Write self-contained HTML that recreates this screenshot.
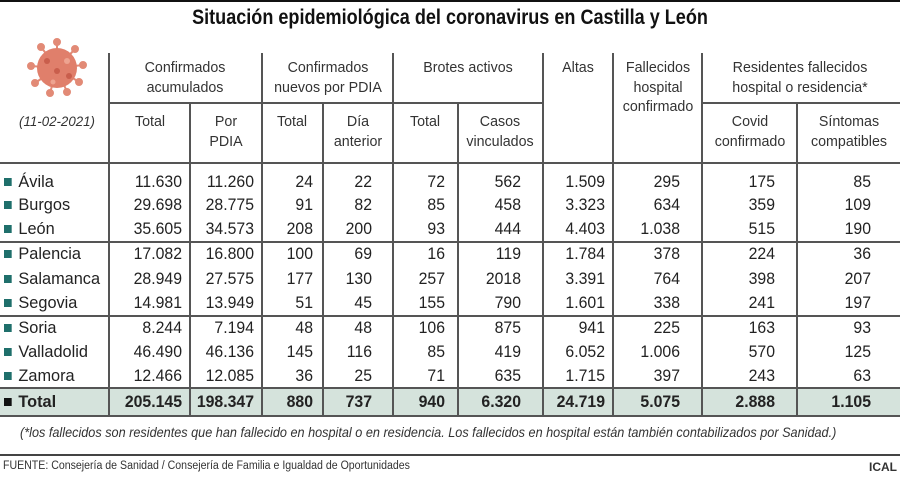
<!DOCTYPE html>
<html><head><meta charset="utf-8"><style>
body{margin:0;background:#fff}
#c{position:relative;width:900px;height:477px;overflow:hidden;font-family:"Liberation Sans",Arial,sans-serif;color:#222}
.t{position:absolute;white-space:nowrap}
.h{position:absolute;text-align:center;font-size:15px;line-height:20px;color:#333;transform:translateX(-50%) scaleX(0.95);white-space:nowrap}
.v{position:absolute;width:1.5px;background:#555}
.hl{position:absolute;height:1.5px;background:#555}
.n{position:absolute;font-size:17px;line-height:20px;text-align:right;white-space:nowrap;transform-origin:100% 50%;transform:translateX(-100%) scaleX(0.93)}
.r{position:absolute;font-size:17px;line-height:20px;left:4px;white-space:nowrap;transform-origin:0 50%;transform:scaleX(0.96)}
.sq{display:inline-block;width:8px;height:8px;background:#1f6f6b;margin-right:7px;vertical-align:1px}
</style></head><body><div id="c">
<div style="position:absolute;left:0;top:0;width:900px;height:2px;background:#111"></div>
<div class="t" style="left:450px;top:6px;font-size:21px;font-weight:bold;transform:translateX(-50%) scaleX(0.86);color:#111">Situación epidemiológica del coronavirus en Castilla y León</div>
<svg style="position:absolute;left:25px;top:36px" width="64" height="64" viewBox="-32 -32 64 64">
<g stroke="#e28a76" stroke-width="2" fill="#e28a76">
<line x1="0" y1="0" x2="0" y2="-26"/><circle cx="0" cy="-26" r="3"/>
<line x1="0" y1="0" x2="18" y2="-19"/><circle cx="18" cy="-19" r="3"/>
<line x1="0" y1="0" x2="26" y2="-3"/><circle cx="26" cy="-3" r="3"/>
<line x1="0" y1="0" x2="22" y2="14"/><circle cx="22" cy="14" r="3"/>
<line x1="0" y1="0" x2="10" y2="24"/><circle cx="10" cy="24" r="3"/>
<line x1="0" y1="0" x2="-7" y2="25"/><circle cx="-7" cy="25" r="3"/>
<line x1="0" y1="0" x2="-22" y2="15"/><circle cx="-22" cy="15" r="3"/>
<line x1="0" y1="0" x2="-26" y2="-2"/><circle cx="-26" cy="-2" r="3"/>
<line x1="0" y1="0" x2="-16" y2="-21"/><circle cx="-16" cy="-21" r="3"/>
</g>
<circle r="20" fill="#e07f6b"/>
<circle cx="-10" cy="-7" r="3" fill="#c95e4c"/><circle cx="10" cy="-7" r="3" fill="#eea390"/>
<circle cx="0" cy="3" r="3" fill="#c95e4c"/><circle cx="12" cy="8" r="3" fill="#c95e4c"/><circle cx="-4" cy="14" r="2.5" fill="#eea390"/>
</svg>
<div class="t" style="left:57px;top:113px;font-size:14px;font-style:italic;color:#333;transform:translateX(-50%) scaleX(0.95)">(11-02-2021)</div>

<div class="h" style="left:185px;top:58px">Confirmados<br>acumulados</div>
<div class="h" style="left:328px;top:58px">Confirmados<br>nuevos por PDIA</div>
<div class="h" style="left:468px;top:58px">Brotes activos</div>
<div class="h" style="left:578px;top:58px">Altas</div>
<div class="h" style="left:658px;top:58px;line-height:19.5px">Fallecidos<br>hospital<br>confirmado</div>
<div class="h" style="left:800px;top:58px">Residentes fallecidos<br>hospital o residencia*</div>
<div class="h" style="left:150px;top:112px">Total</div>
<div class="h" style="left:226px;top:112px">Por<br>PDIA</div>
<div class="h" style="left:292px;top:112px">Total</div>
<div class="h" style="left:358px;top:112px">Día<br>anterior</div>
<div class="h" style="left:425px;top:112px">Total</div>
<div class="h" style="left:500px;top:112px">Casos<br>vinculados</div>
<div class="h" style="left:750px;top:112px">Covid<br>confirmado</div>
<div class="h" style="left:849px;top:112px">Síntomas<br>compatibles</div>

<div style="position:absolute;left:0;top:388px;width:900px;height:28px;background:#d5e3dc"></div>

<div class="hl" style="left:109px;top:102px;width:434px"></div>
<div class="hl" style="left:702px;top:102px;width:198px"></div>
<div class="hl" style="left:0;top:162px;width:900px"></div>
<div class="hl" style="left:0;top:241px;width:900px"></div>
<div class="hl" style="left:0;top:315px;width:900px"></div>
<div class="hl" style="left:0;top:387px;width:900px"></div>
<div class="hl" style="left:0;top:415px;width:900px"></div>
<div class="hl" style="left:0;top:454px;width:900px;background:#444"></div>

<div class="v" style="left:108px;top:53px;height:363px"></div>
<div class="v" style="left:261px;top:53px;height:363px"></div>
<div class="v" style="left:392px;top:53px;height:363px"></div>
<div class="v" style="left:542px;top:53px;height:363px"></div>
<div class="v" style="left:612px;top:53px;height:363px"></div>
<div class="v" style="left:701px;top:53px;height:363px"></div>
<div class="v" style="left:189px;top:102px;height:314px"></div>
<div class="v" style="left:322px;top:102px;height:314px"></div>
<div class="v" style="left:457px;top:102px;height:314px"></div>
<div class="v" style="left:796px;top:102px;height:314px"></div>

<div id="rows"></div>
<div class="t" style="left:20px;top:424px;font-size:14px;font-style:italic;color:#333;transform-origin:0 0;transform:scaleX(0.905)">(*los fallecidos son residentes que han fallecido en hospital o en residencia. Los fallecidos en hospital están también contabilizados por Sanidad.)</div>
<div class="t" style="left:3px;top:460px;font-size:11.5px;color:#333;transform-origin:0 0;transform:scaleX(0.92)">FUENTE: Consejería de Sanidad / Consejería de Familia e Igualdad de Oportunidades</div>
<div class="t" style="right:3px;top:460px;font-size:12px;font-weight:bold;color:#333">ICAL</div>
</div>
<script>
var d=[["Ávila",182,"11.630","11.260","24","22","72","562","1.509","295","175","85"],
["Burgos",205,"29.698","28.775","91","82","85","458","3.323","634","359","109"],
["León",229,"35.605","34.573","208","200","93","444","4.403","1.038","515","190"],
["Palencia",254,"17.082","16.800","100","69","16","119","1.784","378","224","36"],
["Salamanca",279,"28.949","27.575","177","130","257","2018","3.391","764","398","207"],
["Segovia",303,"14.981","13.949","51","45","155","790","1.601","338","241","197"],
["Soria",328,"8.244","7.194","48","48","106","875","941","225","163","93"],
["Valladolid",352,"46.490","46.136","145","116","85","419","6.052","1.006","570","125"],
["Zamora",376,"12.466","12.085","36","25","71","635","1.715","397","243","63"],
["Total",402,"205.145","198.347","880","737","940","6.320","24.719","5.075","2.888","1.105"]];
var R=[182,254,313,372,445,521,605,680,775,871],h="";
d.forEach(function(r,i){var b=i==9?"font-weight:bold;":"";var y=r[1]-10;
h+='<div class="r" style="top:'+y+'px;'+b+'"><span class="sq" style="'+(i==9?"background:#111":"")+'"></span>'+r[0]+'</div>';
for(var j=0;j<10;j++)h+='<div class="n" style="left:'+R[j]+'px;top:'+y+'px;'+b+'">'+r[j+2]+'</div>';});
document.getElementById("rows").innerHTML=h;
</script>
</body></html>
